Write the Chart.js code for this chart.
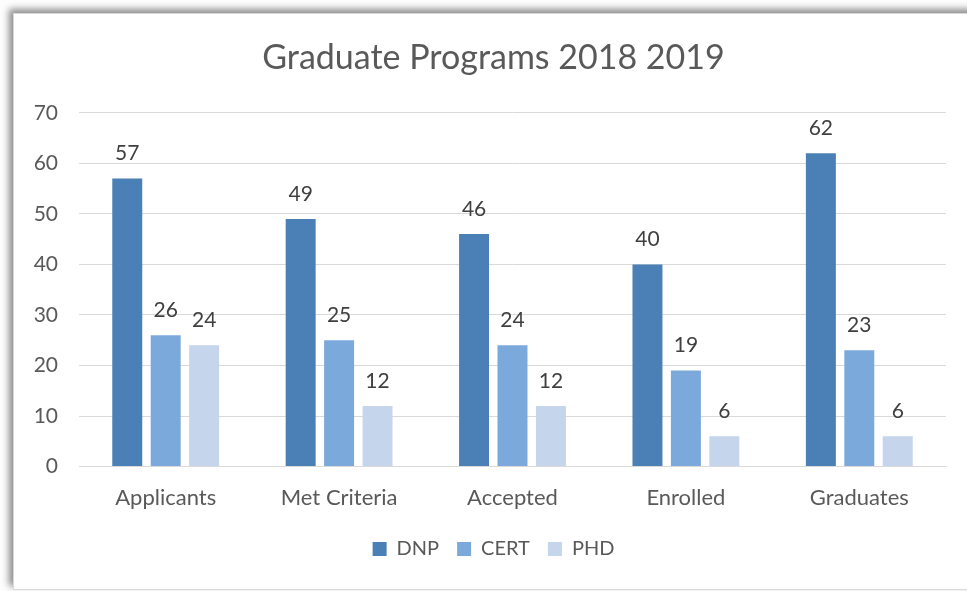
<!DOCTYPE html>
<html>
<head>
<meta charset="utf-8">
<script src="https://cdn.jsdelivr.net/npm/chart.js@4/dist/chart.umd.min.js"></script>
<style>
  html, body { margin: 0; padding: 0; background: #ffffff; overflow: hidden; }
  body { width: 967px; height: 591px; position: relative; background: #fdfdfd; }
  #card {
    position: absolute; left: 13px; top: 13px; width: 975px; height: 575px;
    background: #ffffff; border: 1px solid #d9d9d9;
    box-shadow: -4px -4px 7px rgba(0, 0, 0, 0.45);
  }
  #wrap { position: absolute; left: 0; top: 0; width: 959px; height: 575px; }
</style>
</head>
<body>
<div id="card"><div id="wrap"><canvas id="chart"></canvas></div></div>
<script>
// chart values
var categories = ['Applicants', 'Met Criteria', 'Accepted', 'Enrolled', 'Graduates'];
var dnp = [57, 49, 46, 40, 62];
var cert = [26, 25, 24, 19, 23];
var phd = [24, 12, 12, 6, 6];
var yTicks = [0, 10, 20, 30, 40, 50, 60, 70];

var fontFam = 'Lato, "Open Sans", sans-serif';

// value labels above each bar
var barLabels = {
  id: 'barLabels',
  afterDatasetsDraw: function (chart) {
    var ctx = chart.ctx;
    ctx.save();
    ctx.font = '21px ' + fontFam;
    ctx.fillStyle = '#404040';
    ctx.textAlign = 'center';
    ctx.textBaseline = 'middle';
    chart.data.datasets.forEach(function (ds, i) {
      chart.getDatasetMeta(i).data.forEach(function (bar, j) {
        ctx.fillText(ds.data[j], bar.x, bar.y - 25);
      });
    });
    ctx.restore();
  }
};

new Chart(document.getElementById('chart'), {
  type: 'bar',
  data: {
    labels: categories,
    datasets: [
      { label: 'DNP', data: dnp, backgroundColor: '#4b80b6' },
      { label: 'CERT', data: cert, backgroundColor: '#7ca9dc' },
      { label: 'PHD', data: phd, backgroundColor: '#c5d5eb' }
    ]
  },
  options: {
    responsive: true,
    maintainAspectRatio: false,
    animation: false,
    categoryPercentage: 0.665,
    barPercentage: 0.78,
    layout: { padding: { left: 0, right: 0, top: 0, bottom: 20 } },
    plugins: {
      title: {
        display: true,
        text: 'Graduate Programs 2018 2019',
        color: '#595959',
        font: { family: fontFam, size: 34, weight: 'normal' },
        padding: { top: 24, bottom: 34 }
      },
      legend: {
        position: 'bottom',
        labels: {
          color: '#595959',
          font: { family: fontFam, size: 20 },
          boxWidth: 14, boxHeight: 14,
          padding: 18
        }
      },
      tooltip: { enabled: false }
    },
    scales: {
      x: {
        grid: { display: false },
        border: { color: '#d9d9d9', width: 1 },
        ticks: { color: '#595959', font: { family: fontFam, size: 22 }, padding: 10 }
      },
      y: {
        min: 0, max: 70,
        afterBuildTicks: function (axis) {
          axis.ticks = yTicks.map(function (v) { return { value: v }; });
        },
        afterFit: function (axis) { axis.width = 65; },
        grid: { color: '#d9d9d9', drawTicks: false },
        border: { display: false },
        ticks: { color: '#595959', font: { family: fontFam, size: 21 }, padding: 21 }
      },
      // empty right-hand spacer so the plot ends before the card edge
      yRight: {
        position: 'right',
        min: 0, max: 70,
        afterFit: function (axis) { axis.width = 27; },
        grid: { display: false },
        border: { display: false },
        ticks: { display: false }
      }
    }
  },
  plugins: [barLabels]
});
</script>
</body>
</html>
